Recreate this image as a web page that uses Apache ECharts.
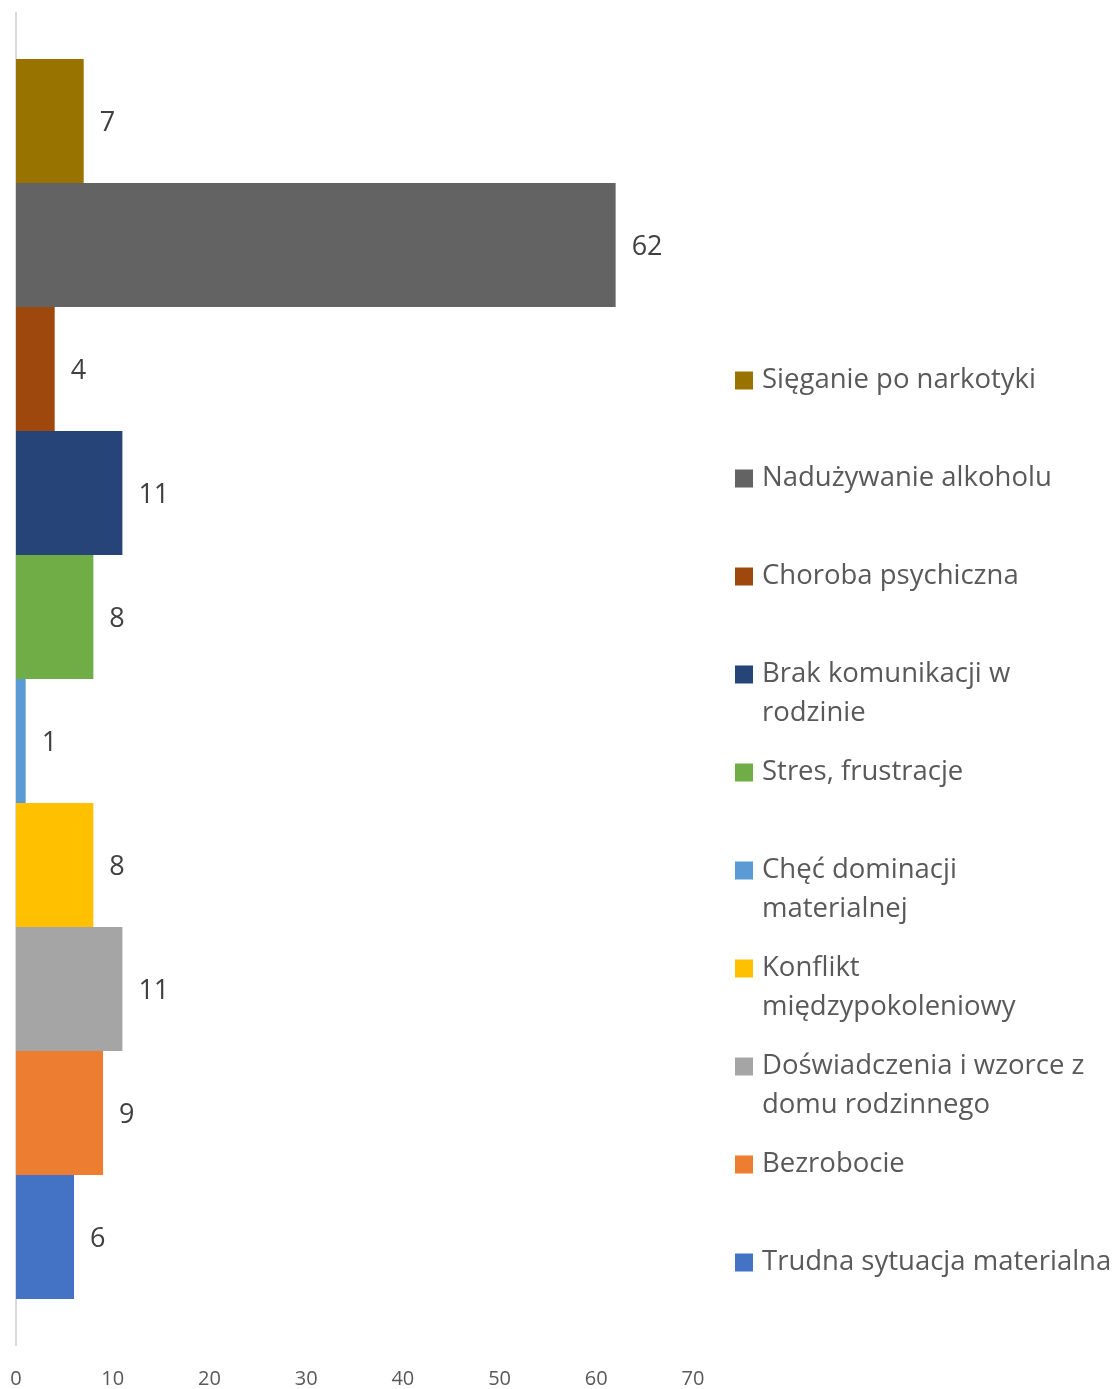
<!DOCTYPE html>
<html>
<head>
<meta charset="utf-8">
<script src="https://cdn.jsdelivr.net/npm/echarts@6/dist/echarts.min.js"></script>
<style>
  html, body { margin: 0; padding: 0; background: #fff; }
  #main { width: 1115px; height: 1389px; }
</style>
</head>
<body>
<div id="main"></div>
<script>
// kolejność od góry do dołu
var names = ['Sięganie po narkotyki', 'Nadużywanie alkoholu', 'Choroba psychiczna',
  'Brak komunikacji w rodzinie', 'Stres, frustracje', 'Chęć dominacji materialnej',
  'Konflikt międzypokoleniowy', 'Doświadczenia i wzorce z domu rodzinnego',
  'Bezrobocie', 'Trudna sytuacja materialna'];
var values = [7, 62, 4, 11, 8, 1, 8, 11, 9, 6];
var colors = ['#997300', '#636363', '#9e480e', '#264478', '#70ad47',
  '#5b9bd5', '#ffc000', '#a5a5a5', '#ed7d31', '#4472c4'];
// podział tekstu legendy na linie
var legendLines = {
  'Brak komunikacji w rodzinie': 'Brak komunikacji w\nrodzinie',
  'Chęć dominacji materialnej': 'Chęć dominacji\nmaterialnej',
  'Konflikt międzypokoleniowy': 'Konflikt\nmiędzypokoleniowy',
  'Doświadczenia i wzorce z domu rodzinnego': 'Doświadczenia i wzorce z\ndomu rodzinnego'
};

var font = '"Open Sans", sans-serif';

var series = names.map(function (n, i) {
  return {
    name: n,
    type: 'bar',
    data: [values[i]],
    barGap: 0,
    barCategoryGap: '6.9%',
    itemStyle: { color: colors[i] },
    label: {
      show: true,
      position: 'right',
      distance: 16,
      offset: [0, 2],
      color: '#404040',
      fontSize: 27,
      fontFamily: font
    }
  };
});

var myChart = echarts.init(document.getElementById('main'));
var option = {
  animation: false,
  grid: { left: 16, top: 13, width: 677, height: 1335, containLabel: false },
  xAxis: {
    type: 'value',
    min: 0,
    max: 70,
    interval: 10,
    axisLine: { show: false },
    axisTick: { show: false },
    splitLine: { show: false },
    axisLabel: { color: '#595959', fontSize: 20, fontFamily: font, margin: 24 }
  },
  yAxis: {
    type: 'category',
    data: [''],
    inverse: true,
    axisLine: { show: true, lineStyle: { color: '#d9d9d9', width: 2 } },
    axisTick: { show: false },
    axisLabel: { show: false }
  },
  legend: {
    orient: 'vertical',
    left: 735,
    top: 322,
    padding: 0,
    itemGap: -19,
    itemWidth: 18,
    itemHeight: 18,
    icon: 'rect',
    data: names,
    formatter: function (n) {
      var t = legendLines[n];
      return t ? '\n' + t : '\n' + n + '\n';
    },
    textStyle: { color: '#595959', fontSize: 27.5, fontFamily: font, lineHeight: 39, padding: [0, 0, 0, 4] }
  },
  series: series
};
myChart.setOption(option);
</script>
</body>
</html>
